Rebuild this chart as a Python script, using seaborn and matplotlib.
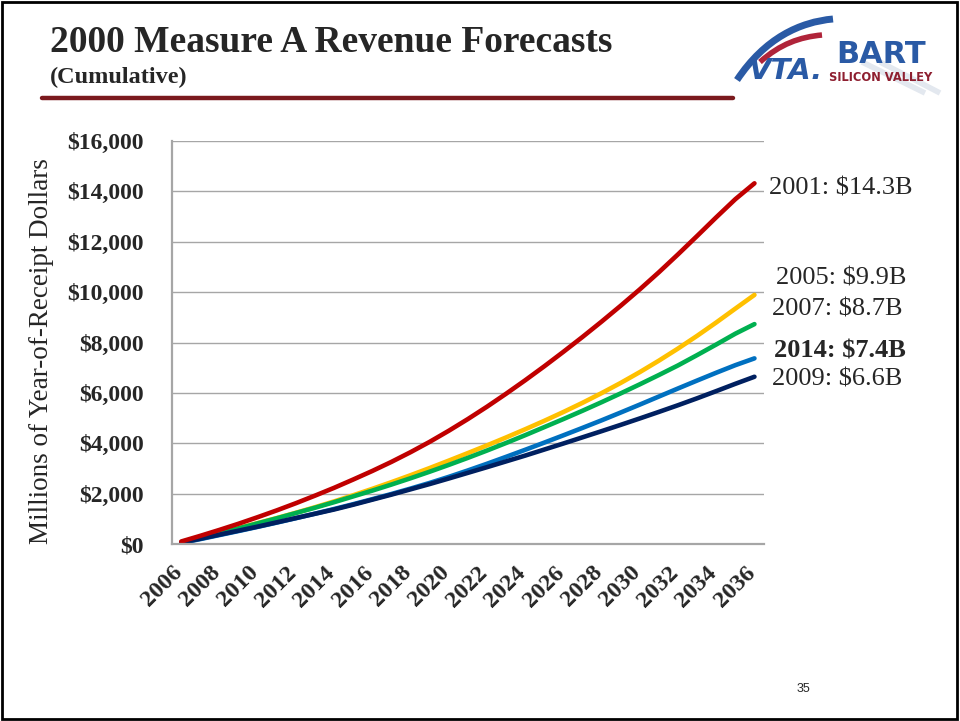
import numpy as np
import pandas as pd
import seaborn as sns
import matplotlib.pyplot as plt
import matplotlib.transforms as mtransforms
from matplotlib.path import Path
from matplotlib.patches import PathPatch, Rectangle


years = list(range(2006, 2037))

# cumulative revenue, millions of year-of-receipt dollars
forecast_2001 = [100, 325, 560, 805, 1065, 1335, 1620, 1920, 2230, 2560,
                 2900, 3260, 3645, 4055, 4495, 4960, 5450, 5965, 6500, 7055,
                 7630, 8220, 8830, 9460, 10110, 10790, 11500, 12230, 12970, 13690,
                 14320]
forecast_2005 = [60, 245, 435, 630, 830, 1030, 1240, 1460, 1690, 1935,
                 2190, 2455, 2730, 3015, 3310, 3610, 3915, 4230, 4555, 4890,
                 5240, 5605, 5990, 6395, 6825, 7280, 7760, 8265, 8795, 9345,
                 9890]
forecast_2007 = [60, 240, 430, 620, 820, 1020, 1230, 1440, 1660, 1890,
                 2120, 2360, 2610, 2870, 3140, 3420, 3710, 4010, 4320, 4640,
                 4960, 5290, 5630, 5980, 6340, 6710, 7090, 7500, 7920, 8350,
                 8730]
forecast_2014 = [40, 195, 355, 515, 680, 850, 1025, 1205, 1390, 1580,
                 1780, 1985, 2200, 2425, 2665, 2920, 3185, 3460, 3740, 4025,
                 4315, 4610, 4910, 5220, 5535, 5855, 6175, 6490, 6800, 7100,
                 7370]
forecast_2009 = [50, 210, 370, 530, 690, 860, 1030, 1200, 1370, 1560,
                 1760, 1960, 2170, 2380, 2600, 2825, 3050, 3280, 3510, 3750,
                 3990, 4235, 4480, 4730, 4985, 5245, 5510, 5785, 6070, 6360,
                 6640]

forecasts = {'2001': forecast_2001, '2005': forecast_2005, '2007': forecast_2007,
             '2014': forecast_2014, '2009': forecast_2009}
draw_order = ['2005', '2007', '2014', '2009', '2001']
colors = {'2001': '#C00000', '2005': '#FFC000', '2007': '#00B050',
          '2014': '#0070C0', '2009': '#002060'}
y_ticks = list(range(0, 16001, 2000))
x_label_years = list(range(2006, 2037, 2))

# label offsets in pixels from each line's end point
label_offsets = {'2001': (15, -5), '2005': (22, 16), '2007': (18, 15),
                 '2014': (20, 7), '2009': (18, -3)}

sns.set_style('white')
plt.rcParams['font.family'] = ['Liberation Serif', 'DejaVu Serif']

rows = []
for name, vals in forecasts.items():
    for y, v in zip(years, vals):
        rows.append({'year': y, 'value': v, 'forecast': name})
df = pd.DataFrame(rows)

W, H = 960, 721
fig = plt.figure(figsize=(9.6, 7.21), dpi=100)

ax = fig.add_axes([171.7 / W, 1 - 544 / H, (764 - 171.7) / W, (544 - 141) / H])
sns.lineplot(data=df, x='year', y='value', hue='forecast', hue_order=draw_order,
             palette=colors, linewidth=3.3, legend=False, ax=ax)

ax.set_xlim(2005.5, 2036.5)
ax.set_ylim(0, 16000)
ax.set_xlabel('')
ax.set_ylabel('')
for s in ['top', 'right']:
    ax.spines[s].set_visible(False)
for s in ['left', 'bottom']:
    ax.spines[s].set_color('#A6A6A6')
    ax.spines[s].set_linewidth(1.6)
ax.yaxis.grid(True, color='#A6A6A6', linewidth=1)
ax.set_axisbelow(True)

ax.set_yticks(y_ticks)
ax.set_yticklabels(['${:,}'.format(v) for v in y_ticks], fontsize=17, fontweight='bold')
ax.tick_params(axis='y', length=6, width=1.3, color='#A6A6A6', pad=14)

ax.set_xticks(np.arange(2005.5, 2037, 1))
ax.set_xticklabels([])
ax.tick_params(axis='x', which='major', length=6, width=1.3, color='#A6A6A6')
ax.set_xticks(x_label_years, labels=[str(y) for y in x_label_years], minor=True)
ax.tick_params(axis='x', which='minor', length=0, pad=13)
shift = mtransforms.ScaledTranslation(5 / 100, 0, fig.dpi_scale_trans)
for lab in ax.get_xticklabels(minor=True):
    lab.set_rotation(45)
    lab.set_ha('right')
    lab.set_va('top')
    lab.set_fontsize(17.5)
    lab.set_fontweight('bold')
    lab.set_transform(lab.get_transform() + shift)

for name, vals in forecasts.items():
    ax.annotate('{}: ${:.1f}B'.format(name, vals[-1] / 1000),
                xy=(years[-1], vals[-1]), xytext=label_offsets[name],
                textcoords='offset pixels', va='center', ha='left', fontsize=19,
                fontweight='bold' if name == '2014' else 'normal',
                annotation_clip=False)

fig.text(42 / W, 1 - 351 / H, 'Millions of Year-of-Receipt Dollars', rotation=90,
         ha='center', va='center', fontsize=19.5)

# slide header
fig.text(50 / W, 1 - 52 / H, '2000 Measure A Revenue Forecasts', fontsize=27,
         fontweight='bold', ha='left', va='baseline')
fig.text(50 / W, 1 - 83 / H, '(Cumulative)', fontsize=17.5, fontweight='bold',
         ha='left', va='baseline')
fig.add_artist(plt.Line2D([42 / W, 733 / W], [1 - 97.5 / H, 1 - 97.5 / H],
                          color='#7B1A1E', linewidth=3.2))

# logo
lax = fig.add_axes([730 / W, 1 - 100 / H, 225 / W, 90 / H])
lax.set_xlim(730, 955)
lax.set_ylim(100, 10)
lax.axis('off')
for x0, x1 in [(862, 925), (880, 940)]:
    lax.plot([x0, x1], [62, 93], color='#E3E8EF', linewidth=4, solid_capstyle='butt')
blue_path = Path([(737, 80), (765, 38), (800, 22), (833, 19)],
                 [Path.MOVETO, Path.CURVE4, Path.CURVE4, Path.CURVE4])
red_path = Path([(760, 62), (780, 44), (800, 37), (822, 35)],
                [Path.MOVETO, Path.CURVE4, Path.CURVE4, Path.CURVE4])
lax.add_patch(PathPatch(blue_path, fill=False, edgecolor='#2A5AA5', linewidth=5))
lax.add_patch(PathPatch(red_path, fill=False, edgecolor='#B0243A', linewidth=4))
lax.text(786, 71, 'VTA.', fontsize=21, fontweight='heavy', fontstyle='italic',
         color='#2A5AA5', ha='center', va='center', family='DejaVu Sans')
lax.text(881, 63, 'BART', fontsize=22, fontweight='bold', color='#2A5AA5',
         ha='center', va='baseline', family='DejaVu Sans')
lax.text(881, 71, 'SILICON VALLEY', fontsize=8.3, fontweight='bold', color='#8E1F30',
         ha='center', va='top', family='DejaVu Sans')

fig.text(803 / W, 1 - 689 / H, '35', fontsize=9, ha='center', va='center',
         family='Liberation Sans')

fig.add_artist(Rectangle((2 / W, 2 / H), 955 / W, 717 / H, transform=fig.transFigure,
                         fill=False, edgecolor='black', linewidth=2))

fig.savefig('out.png', dpi=100)
